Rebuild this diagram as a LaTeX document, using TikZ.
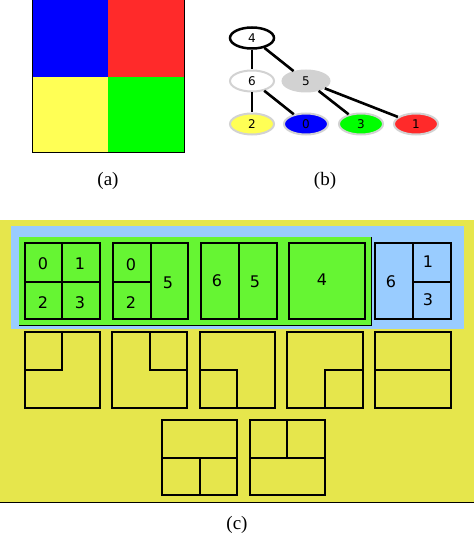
\documentclass[tikz,border=0pt]{standalone}
\usepackage{fontspec}
\setmainfont{Liberation Serif}
\newfontfamily\dejavu{DejaVu Sans}
\usetikzlibrary{shapes.geometric}

\definecolor{pblue}{RGB}{0,0,255}
\definecolor{pred}{RGB}{255,42,42}
\definecolor{pyellow}{RGB}{255,255,85}
\definecolor{pgreen}{RGB}{0,255,0}
\definecolor{ringgrey}{RGB}{210,210,210}
\definecolor{bgyellow}{RGB}{230,230,76}
\definecolor{bgblue}{RGB}{153,204,255}
\definecolor{bggreen}{RGB}{102,245,51}

\begin{document}
\begin{tikzpicture}[
      x=1pt, y=-1pt,
      gnode/.style={ellipse, draw=ringgrey, line width=2pt, inner sep=0pt,
        minimum width=44pt, minimum height=21pt, font=\dejavu\fontsize{12}{14}\selectfont},
      tree/.style={line width=2.6pt},
      cell/.style={draw, line width=1.3pt},
      num/.style={font=\dejavu\fontsize{16}{18}\selectfont},
      caption/.style={font=\fontsize{19}{22}\selectfont}
    ]
    \useasboundingbox (0,0) rectangle (474,556);

    % (a) segmented image
    \fill[pblue] (32,0) rectangle (108,77);
    \fill[pred] (108,0) rectangle (184,77);
    \fill[pyellow] (32,77) rectangle (108,153);
    \fill[pgreen] (108,77) rectangle (184,153);
    \draw[line width=1pt] (32,0) -- (32,153) -- (184,153) -- (184,0);
    \node[caption] (capa) at (108,181) {(a)};

    % (b) merge tree
    \node[gnode, draw=black, line width=2.5pt, fill=white] (n4) at (252,38) {4};
    \node[gnode, fill=white] (n6) at (252,81) {6};
    \node[gnode, fill=ringgrey, minimum width=47pt] (n5) at (306,81) {5};
    \node[gnode, fill=pyellow] (n2) at (252,124) {2};
    \node[gnode, fill=pblue] (n0) at (306,124) {0};
    \node[gnode, fill=pgreen] (n3) at (361,124) {3};
    \node[gnode, fill=pred] (n1) at (416,124) {1};
    \draw[tree] (n4) -- (n6);
    \draw[tree] (n4) -- (n5);
    \draw[tree] (n6) -- (n2);
    \draw[tree] (n6) -- (n0);
    \draw[tree] (n5) -- (n3);
    \draw[tree] (n5) -- (n1);
    \node[caption] (capb) at (325,181) {(b)};

    % (c) partitions
    \fill[bgyellow] (0,220) rectangle (474,502);
    \draw[line width=1pt] (0,502) -- (474,502);
    \fill[bgblue] (11,226) rectangle (464,329);
    \fill[bggreen] (19,237) rectangle (371,325);
    \draw[line width=0.8pt] (19,325) -- (371,325) -- (371,237);

    \draw[cell] (25,243) rectangle (100,319);
    \draw[cell] (62,243) -- (62,319) (25,282) -- (100,282);
    \node[num] (c0) at (43,264) {0};
    \node[num] (c1) at (80,264) {1};
    \node[num] (c2) at (43,303) {2};
    \node[num] (c3) at (80,303) {3};

    \draw[cell] (113,243) rectangle (188,319);
    \draw[cell] (151,243) -- (151,319) (113,282) -- (151,282);
    \node[num] (d0) at (131,265) {0};
    \node[num] (d2) at (131,303) {2};
    \node[num] (d5) at (168,283) {5};

    \draw[cell] (201,243) rectangle (277,319);
    \draw[cell] (239,243) -- (239,319);
    \node[num] (e6) at (217,281) {6};
    \node[num] (e5) at (255,282) {5};

    \draw[cell] (289,243) rectangle (365,319);
    \node[num] (f4) at (322,280) {4};

    \draw[cell] (375,243) rectangle (451,319);
    \draw[cell] (413,243) -- (413,319) (413,282) -- (451,282);
    \node[num] (g6) at (391,282) {6};
    \node[num] (g1) at (428,262) {1};
    \node[num] (g3) at (428,300) {3};

    \draw[cell] (25,332) rectangle (100,408);
    \draw[cell] (62,332) -- (62,370) -- (25,370);
    \draw[cell] (112,332) rectangle (187,408);
    \draw[cell] (150,332) -- (150,370) -- (187,370);
    \draw[cell] (200,332) rectangle (275,408);
    \draw[cell] (200,370) -- (237,370) -- (237,408);
    \draw[cell] (287,332) rectangle (363,408);
    \draw[cell] (363,370) -- (325,370) -- (325,408);
    \draw[cell] (375,332) rectangle (451,408);
    \draw[cell] (375,370) -- (451,370);

    \draw[cell] (162,420) rectangle (237,495);
    \draw[cell] (162,458) -- (237,458) (200,458) -- (200,495);
    \draw[cell] (250,420) rectangle (325,495);
    \draw[cell] (250,458) -- (325,458) (287,420) -- (287,458);
    \node[caption] (capc) at (237,525) {(c)};
  \end{tikzpicture}
\end{document}
